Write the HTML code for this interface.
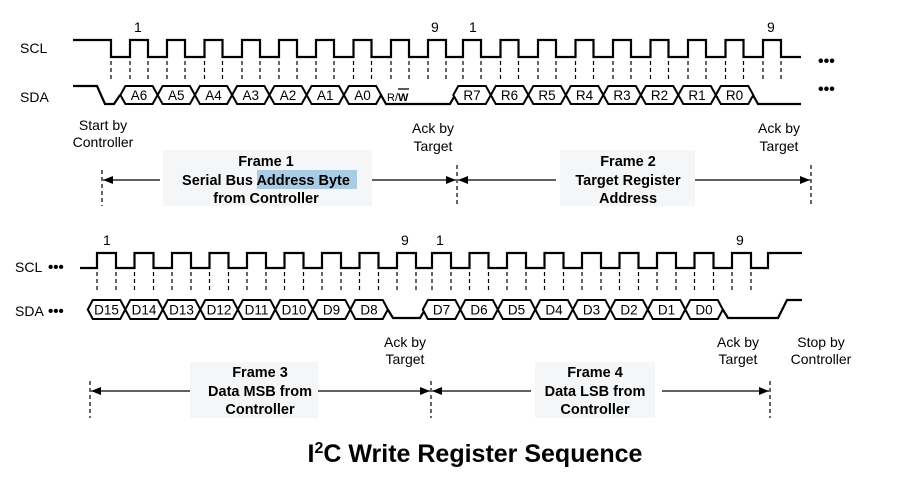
<!DOCTYPE html>
<html><head><meta charset="utf-8"><style>
html,body{margin:0;padding:0;background:#fff;}
svg{display:block;font-family:"Liberation Sans",Arial,sans-serif;}
.w{fill:none;stroke:#000;stroke-width:2.2;stroke-linejoin:miter;}
.d{stroke:#000;stroke-width:1.2;stroke-dasharray:4,3;}
.h{fill:#fff;stroke:#000;stroke-width:2;}
.t{font-size:14px;}
.c{font-size:13.5px;text-anchor:middle;}
.b{font-size:14.5px;font-weight:bold;text-anchor:middle;}
.m{font-size:14px;text-anchor:middle;}
</style></head><body>
<svg width="899" height="494" viewBox="0 0 899 494" xmlns="http://www.w3.org/2000/svg">
<defs>
<marker id="ar" viewBox="0 0 10 10" refX="10" refY="5" markerWidth="10" markerHeight="10" markerUnits="userSpaceOnUse" orient="auto"><path d="M0,1 L10,5 L0,9 Z" fill="#000"/></marker>
</defs>
<!-- frame label backgrounds -->
<rect x="163" y="150" width="209" height="56" fill="#f5f6f8"/>
<rect x="560" y="150" width="135" height="56" fill="#f5f6f8"/>
<rect x="190" y="362" width="128" height="56" fill="#f5f6f8"/>
<rect x="535" y="362" width="120" height="56" fill="#f5f6f8"/>
<rect x="257" y="170" width="100" height="19" fill="#a9cbe3"/>

<!-- Row 1 -->
<text x="20" y="53" class="t">SCL</text>
<text x="20" y="102" class="t">SDA</text>
<text x="134" y="32" class="t">1</text>
<text x="431" y="32" class="t">9</text>
<text x="469" y="32" class="t">1</text>
<text x="767" y="32" class="t">9</text>
<path class="w" d="M73 40 H111 V57 H130 V40 H148 V57 H167 V40 H185 V57 H204.5 V40 H222.5 V57 H242 V40 H260 V57 H279 V40 H297 V57 H316 V40 H334 V57 H353.5 V40 H371.5 V57 H391 V40 H409 V57 H428 V40 H446 V57 H463 V40 H481 V57 H500.5 V40 H518.5 V57 H538 V40 H556 V57 H575.5 V40 H593.5 V57 H613 V40 H631 V57 H650.5 V40 H668.5 V57 H688 V40 H706 V57 H725.5 V40 H743.5 V57 H763 V40 H781 V57 H801"/>
<g class="d">
<path d="M111 61V80M130 61V80M148 61V80M167 61V80M185 61V80M204.5 61V80M222.5 61V80M242 61V80M260 61V80M279 61V80M297 61V80M316 61V80M334 61V80M353.5 61V80M371.5 61V80M391 61V80M409 61V80M428 61V80M446 61V80"/>
<path d="M463 61V80M481 61V80M500.5 61V80M518.5 61V80M538 61V80M556 61V80M575.5 61V80M593.5 61V80M613 61V80M631 61V80M650.5 61V80M668.5 61V80M688 61V80M706 61V80M725.5 61V80M743.5 61V80M763 61V80M781 61V80"/>
</g>
<path class="w" d="M73 86 H97 L105 104 H114 L120 95 M381 95 L386 104 H450 L455 95 M753 95 L758 104 H801"/>
<g class="h">
<path d="M120.4 95 L125.4 86 H152.6 L157.6 95 L152.6 104 H125.4 Z"/>
<path d="M157.6 95 L162.6 86 H189.9 L194.9 95 L189.9 104 H162.6 Z"/>
<path d="M194.9 95 L199.9 86 H227.1 L232.1 95 L227.1 104 H199.9 Z"/>
<path d="M232.1 95 L237.1 86 H264.4 L269.4 95 L264.4 104 H237.1 Z"/>
<path d="M269.4 95 L274.4 86 H301.6 L306.6 95 L301.6 104 H274.4 Z"/>
<path d="M306.6 95 L311.6 86 H338.9 L343.9 95 L338.9 104 H311.6 Z"/>
<path d="M343.9 95 L348.9 86 H376.1 L381.1 95 L376.1 104 H348.9 Z"/>
<path d="M453.3 95 L458.3 86 H485.8 L490.8 95 L485.8 104 H458.3 Z"/>
<path d="M490.8 95 L495.8 86 H523.3 L528.3 95 L523.3 104 H495.8 Z"/>
<path d="M528.3 95 L533.3 86 H560.8 L565.8 95 L560.8 104 H533.3 Z"/>
<path d="M565.8 95 L570.8 86 H598.3 L603.3 95 L598.3 104 H570.8 Z"/>
<path d="M603.3 95 L608.3 86 H635.8 L640.8 95 L635.8 104 H608.3 Z"/>
<path d="M640.8 95 L645.8 86 H673.3 L678.3 95 L673.3 104 H645.8 Z"/>
<path d="M678.3 95 L683.3 86 H710.8 L715.8 95 L710.8 104 H683.3 Z"/>
<path d="M715.8 95 L720.8 86 H748.3 L753.3 95 L748.3 104 H720.8 Z"/>
</g>
<g class="c">
<text x="139" y="100">A6</text><text x="176.3" y="100">A5</text><text x="213.5" y="100">A4</text><text x="250.8" y="100">A3</text><text x="288" y="100">A2</text><text x="325.3" y="100">A1</text><text x="362.5" y="100">A0</text>
<text x="472" y="100">R7</text><text x="509.5" y="100">R6</text><text x="547" y="100">R5</text><text x="584.5" y="100">R4</text><text x="622" y="100">R3</text><text x="659.5" y="100">R2</text><text x="697" y="100">R1</text><text x="734.5" y="100">R0</text>
</g>
<text x="387" y="101" style="font-size:11px">R/<tspan font-weight="bold">W</tspan></text>
<path d="M398 89 H409" stroke="#000" stroke-width="1.3"/>
<text x="818" y="66" style="font-size:16px;font-weight:bold">•••</text>
<text x="818" y="94" style="font-size:16px;font-weight:bold">•••</text>

<g class="m">
<text x="103" y="130">Start by</text><text x="103" y="147">Controller</text>
<text x="433" y="133">Ack by</text><text x="433" y="151">Target</text>
<text x="779" y="133">Ack by</text><text x="779" y="151">Target</text>
</g>
<g class="b">
<text x="266" y="166">Frame 1</text><text x="266" y="185">Serial Bus Address Byte</text><text x="266" y="203">from Controller</text>
<text x="628" y="166">Frame 2</text><text x="628" y="185">Target Register</text><text x="628" y="203">Address</text>
</g>
<g class="d"><path d="M102 170V206M457 165V206M811 165V206"/></g>
<g stroke="#000" stroke-width="1.3" fill="none">
<path d="M160 180 H103" marker-end="url(#ar)"/><path d="M372 180 H456" marker-end="url(#ar)"/>
<path d="M556 180 H458" marker-end="url(#ar)"/><path d="M695 180 H810" marker-end="url(#ar)"/>
</g>

<!-- Row 2 -->
<text x="15" y="272" class="t">SCL</text><text x="48" y="272" style="font-size:15px;font-weight:bold">•••</text>
<text x="15" y="316" class="t">SDA</text><text x="48" y="316" style="font-size:15px;font-weight:bold">•••</text>
<text x="103" y="245" class="t">1</text>
<text x="401" y="245" class="t">9</text>
<text x="436" y="245" class="t">1</text>
<text x="736" y="245" class="t">9</text>
<path class="w" d="M80 268 H97 V253 H116 V268 H134.5 V253 H153.5 V268 H172 V253 H191 V268 H209.5 V253 H228.5 V268 H247 V253 H266 V268 H284.5 V253 H303.5 V268 H322 V253 H341 V268 H359.5 V253 H378.5 V268 H397 V253 H416 V268 H432 V253 H451 V268 H469.5 V253 H488.5 V268 H507 V253 H526 V268 H544.5 V253 H563.5 V268 H582 V253 H601 V268 H619.5 V253 H638.5 V268 H657 V253 H676 V268 H694.5 V253 H713.5 V268 H732 V253 H751 V268 H768 V253 H802"/>
<g class="d">
<path d="M97 272V292M116 272V292M134.5 272V292M153.5 272V292M172 272V292M191 272V292M209.5 272V292M228.5 272V292M247 272V292M266 272V292M284.5 272V292M303.5 272V292M322 272V292M341 272V292M359.5 272V292M378.5 272V292M397 272V292M416 272V292"/>
<path d="M432 272V292M451 272V292M469.5 272V292M488.5 272V292M507 272V292M526 272V292M544.5 272V292M563.5 272V292M582 272V292M601 272V292M619.5 272V292M638.5 272V292M657 272V292M676 272V292M694.5 272V292M713.5 272V292M732 272V292M751 272V292"/>
</g>
<path class="w" d="M387.8 309.5 L393 318 H420 L425 309.5 M722.8 309.5 L728 318 H778 L787 300 H802"/>
<g class="h">
<path d="M87.8 309.5 L92.8 300 H120.3 L125.3 309.5 L120.3 319 H92.8 Z"/>
<path d="M125.3 309.5 L130.3 300 H157.8 L162.8 309.5 L157.8 319 H130.3 Z"/>
<path d="M162.8 309.5 L167.8 300 H195.3 L200.3 309.5 L195.3 319 H167.8 Z"/>
<path d="M200.3 309.5 L205.3 300 H232.8 L237.8 309.5 L232.8 319 H205.3 Z"/>
<path d="M237.8 309.5 L242.8 300 H270.3 L275.3 309.5 L270.3 319 H242.8 Z"/>
<path d="M275.3 309.5 L280.3 300 H307.8 L312.8 309.5 L307.8 319 H280.3 Z"/>
<path d="M312.8 309.5 L317.8 300 H345.3 L350.3 309.5 L345.3 319 H317.8 Z"/>
<path d="M350.3 309.5 L355.3 300 H382.8 L387.8 309.5 L382.8 319 H355.3 Z"/>
<path d="M422.8 309.5 L427.8 300 H455.3 L460.3 309.5 L455.3 319 H427.8 Z"/>
<path d="M460.3 309.5 L465.3 300 H492.8 L497.8 309.5 L492.8 319 H465.3 Z"/>
<path d="M497.8 309.5 L502.8 300 H530.3 L535.3 309.5 L530.3 319 H502.8 Z"/>
<path d="M535.3 309.5 L540.3 300 H567.8 L572.8 309.5 L567.8 319 H540.3 Z"/>
<path d="M572.8 309.5 L577.8 300 H605.3 L610.3 309.5 L605.3 319 H577.8 Z"/>
<path d="M610.3 309.5 L615.3 300 H642.8 L647.8 309.5 L642.8 319 H615.3 Z"/>
<path d="M647.8 309.5 L652.8 300 H680.3 L685.3 309.5 L680.3 319 H652.8 Z"/>
<path d="M685.3 309.5 L690.3 300 H717.8 L722.8 309.5 L717.8 319 H690.3 Z"/>
</g>
<g class="c">
<text x="106.5" y="314.5">D15</text><text x="144" y="314.5">D14</text><text x="181.5" y="314.5">D13</text><text x="219" y="314.5">D12</text><text x="256.5" y="314.5">D11</text><text x="294" y="314.5">D10</text><text x="331.5" y="314.5">D9</text><text x="369" y="314.5">D8</text>
<text x="441.5" y="314.5">D7</text><text x="479" y="314.5">D6</text><text x="516.5" y="314.5">D5</text><text x="554" y="314.5">D4</text><text x="591.5" y="314.5">D3</text><text x="629" y="314.5">D2</text><text x="666.5" y="314.5">D1</text><text x="704" y="314.5">D0</text>
</g>
<g class="m">
<text x="405" y="347">Ack by</text><text x="405" y="364">Target</text>
<text x="738" y="347">Ack by</text><text x="738" y="364">Target</text>
<text x="821" y="347">Stop by</text><text x="821" y="364">Controller</text>
</g>
<g class="b">
<text x="260" y="377">Frame 3</text><text x="260" y="396">Data MSB from</text><text x="260" y="414">Controller</text>
<text x="595" y="377">Frame 4</text><text x="595" y="396">Data LSB from</text><text x="595" y="414">Controller</text>
</g>
<g class="d"><path d="M90 381V418M431 381V418M770 381V418"/></g>
<g stroke="#000" stroke-width="1.3" fill="none">
<path d="M190 391 H91" marker-end="url(#ar)"/><path d="M318 391 H430" marker-end="url(#ar)"/>
<path d="M531 391 H432" marker-end="url(#ar)"/><path d="M662 391 H769" marker-end="url(#ar)"/>
</g>

<text x="475" y="462" style="font-size:25px;font-weight:bold;text-anchor:middle">I<tspan dy="-9" style="font-size:16px">2</tspan><tspan dy="9">C Write Register Sequence</tspan></text>
</svg>
</body></html>
